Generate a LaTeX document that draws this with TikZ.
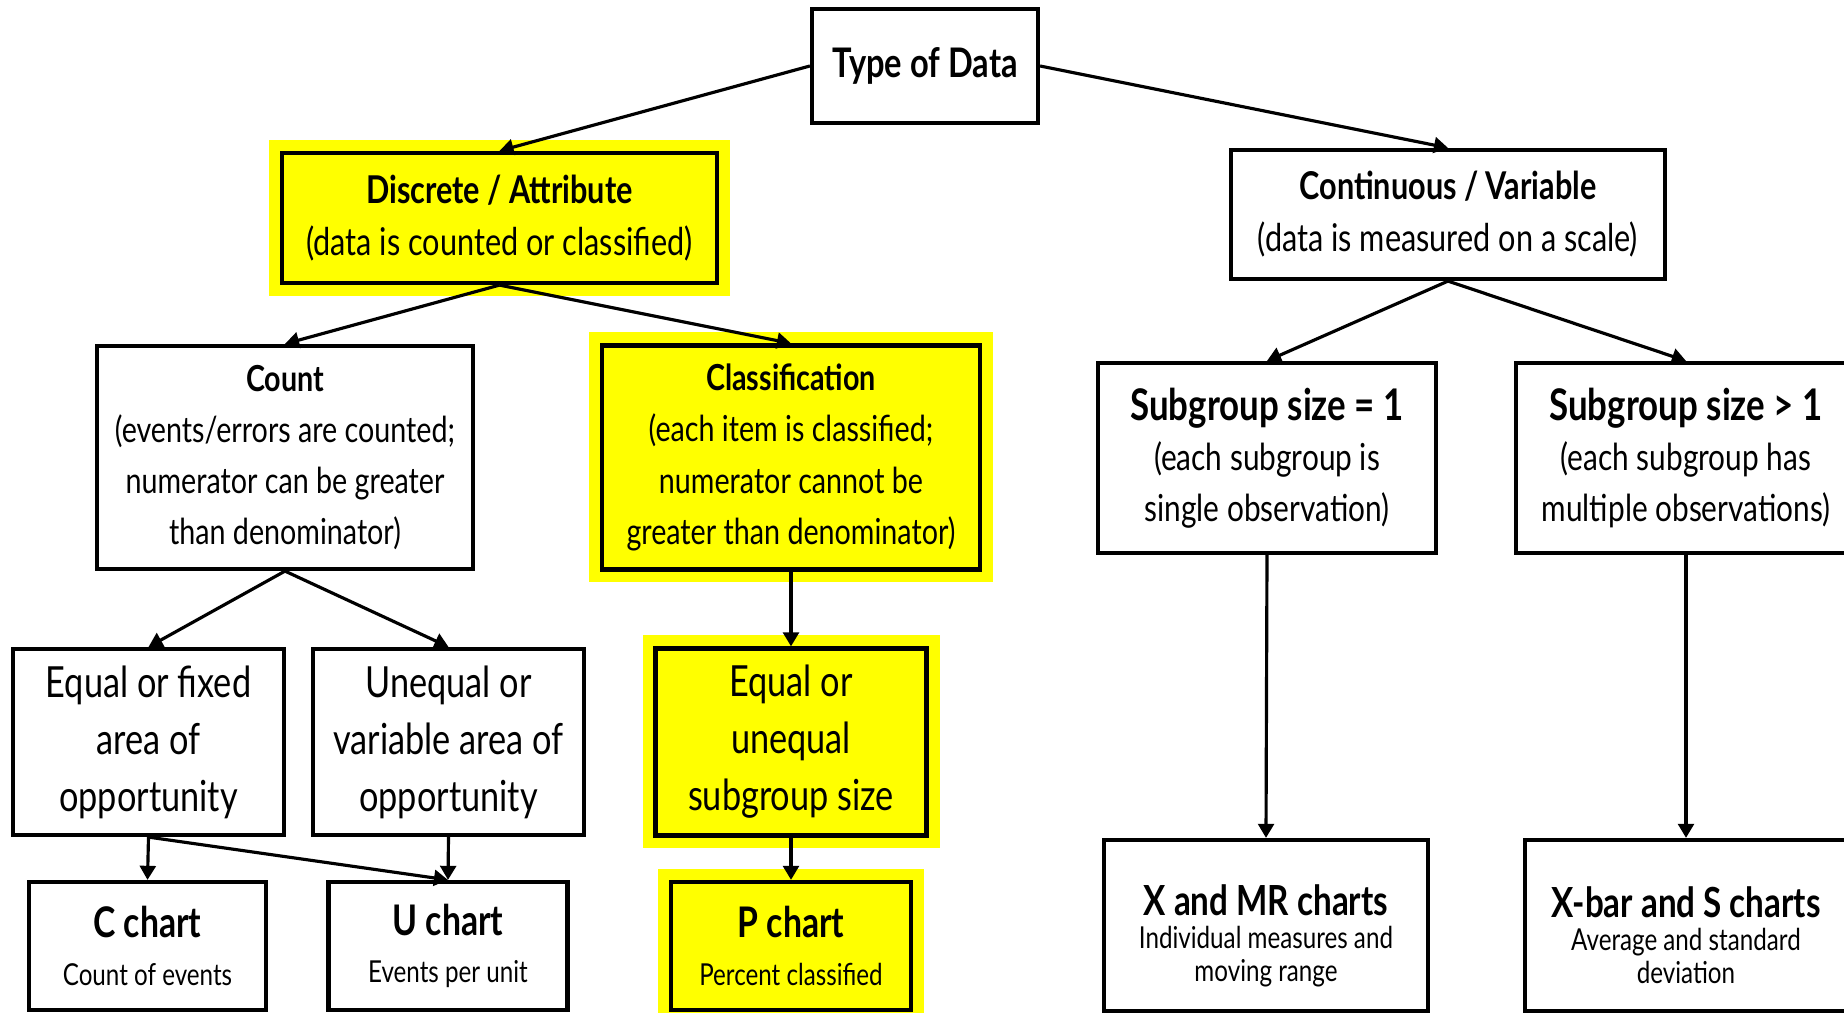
\documentclass[tikz,border=0pt]{standalone}
\usepackage{fontspec}
\setmainfont[FakeStretch=0.8]{Lato}
\usetikzlibrary{arrows.meta}
\definecolor{hiyellow}{RGB}{255,255,0}
\tikzstyle{box}=[draw, line width=1.2pt, align=center, inner sep=0pt, font=\fontsize{10.2}{14.6}\selectfont]
\tikzstyle{hlbox}=[box, fill=hiyellow, preaction={draw=hiyellow, line width=0.26cm}]
\tikzstyle{link}=[line width=0.9pt, -{Triangle[length=4pt, width=4.5pt]}]
\newcommand{\hd}[2]{{\fontsize{#1}{#1}\selectfont\bfseries #2}}

\begin{document}
\begin{tikzpicture}
  \useasboundingbox (0,0) rectangle (18.44,10.13);
  \node[box, minimum width=2.26cm, minimum height=1.14cm, font=\bfseries\fontsize{11.6}{15}\selectfont] (type) at (9.25,9.47) {Type of Data};
  \node[hlbox, minimum width=4.35cm, minimum height=1.30cm, font=\fontsize{10.9}{14.8}\selectfont] (disc) at (4.995,7.95) {{\bfseries Discrete / Attribute}\\(data is counted or classified)};
  \node[box, minimum width=4.34cm, minimum height=1.29cm, font=\fontsize{10.9}{14.8}\selectfont] (cont) at (14.48,7.985) {{\bfseries Continuous / Variable}\\(data is measured on a scale)};
  \node[box, minimum width=3.76cm, minimum height=2.23cm] (count) at (2.85,5.555) {{\bfseries Count}\\(events/errors are counted;\\numerator can be greater\\than denominator)};
  \node[hlbox, minimum width=3.78cm, minimum height=2.24cm] (class) at (7.91,5.555) {{\bfseries Classification}\\(each item is classified;\\numerator cannot be\\greater than denominator)};
  \node[box, minimum width=3.38cm, minimum height=1.90cm, font=\fontsize{10.6}{14.3}\selectfont] (sub1) at (12.67,5.55) {\hd{12.4}{Subgroup size = 1}\\(each subgroup is\\single observation)};
  \node[box, minimum width=3.40cm, minimum height=1.90cm, font=\fontsize{10.6}{14.3}\selectfont] (subn) at (16.86,5.55) {\hd{12.4}{Subgroup size > 1}\\(each subgroup has\\multiple observations)};
  \node[box, minimum width=2.71cm, minimum height=1.86cm, font=\fontsize{12.2}{16.2}\selectfont] (eqfix) at (1.485,2.71) {Equal or fixed\\area of\\opportunity};
  \node[box, minimum width=2.71cm, minimum height=1.86cm, font=\fontsize{12.2}{16.2}\selectfont] (uneq) at (4.485,2.71) {Unequal or\\variable area of\\opportunity};
  \node[hlbox, minimum width=2.71cm, minimum height=1.87cm, font=\fontsize{12.2}{16.2}\selectfont] (equneq) at (7.91,2.71) {Equal or\\unequal\\subgroup size};
  \node[box, minimum width=2.37cm, minimum height=1.28cm, font=\fontsize{8.6}{13.4}\selectfont] (cchart) at (1.475,0.67) {\hd{12}{C chart}\\Count of events};
  \node[box, minimum width=2.39cm, minimum height=1.28cm, font=\fontsize{8.6}{13.4}\selectfont] (uchart) at (4.48,0.67) {\hd{12}{U chart}\\Events per unit};
  \node[hlbox, minimum width=2.40cm, minimum height=1.28cm, font=\fontsize{8.6}{13.4}\selectfont] (pchart) at (7.91,0.67) {\hd{12}{P chart}\\Percent classified};
  \node[box, minimum width=3.24cm, minimum height=1.71cm, font=\fontsize{8.6}{9.4}\selectfont] (xmr) at (12.66,0.875) {\rule{0pt}{14.5pt}\hd{11.8}{X and MR charts}\\Individual measures and\\moving range};
  \node[box, minimum width=3.22cm, minimum height=1.71cm, font=\fontsize{8.6}{9.4}\selectfont] (xbar) at (16.86,0.875) {\rule{0pt}{14.5pt}\hd{11.8}{X-bar and S charts}\\Average and standard\\deviation};
  \draw[link] (type.west) -- (disc.north);
  \draw[link] (type.east) -- (cont.north);
  \draw[link] (disc.south) -- (count.north);
  \draw[link] (disc.south) -- (class.north);
  \draw[link] (cont.south) -- (sub1.north);
  \draw[link] (cont.south) -- (subn.north);
  \draw[link] (count.south) -- (eqfix.north);
  \draw[link] (count.south) -- (uneq.north);
  \draw[link] (class.south) -- (equneq.north);
  \draw[link] (eqfix.south) -- (cchart.north);
  \draw[link] (eqfix.south) -- (uchart.north);
  \draw[link] (uneq.south) -- (uchart.north);
  \draw[link] (equneq.south) -- (pchart.north);
  \draw[link] (sub1.south) -- (xmr.north);
  \draw[link] (subn.south) -- (xbar.north);
\end{tikzpicture}
\end{document}
